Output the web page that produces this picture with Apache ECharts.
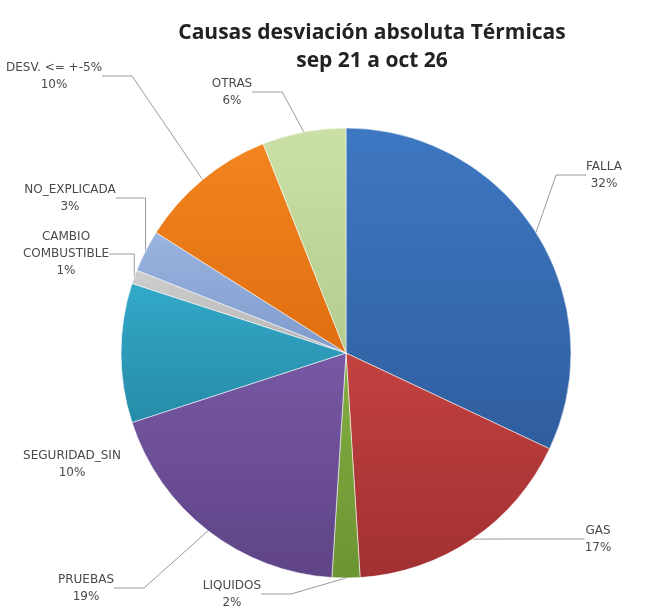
<!DOCTYPE html>
<html>
<head>
<meta charset="utf-8">
<script src="https://cdn.jsdelivr.net/npm/echarts@6/dist/echarts.min.js"></script>
<style>
html,body{margin:0;padding:0;background:#fff;}
#chart{width:651px;height:612px;}
</style>
</head>
<body>
<div id="chart"></div>
<script>
// ---- data ----
var categories = ['FALLA', 'GAS', 'LIQUIDOS', 'PRUEBAS', 'SEGURIDAD_SIN', 'CAMBIO\nCOMBUSTIBLE', 'NO_EXPLICADA', 'DESV. <= +-5%', 'OTRAS'];
var values = [32, 17, 2, 19, 10, 1, 3, 10, 6];

// ---- styles / layout (kept separate from data) ----
var sliceTop    = ['#3e78c2', '#c2413f', '#84ad42', '#7758a4', '#33a9c8', '#cfcfcf', '#9ab4e0', '#f2851f', '#cbe0a6'];
var sliceBottom = ['#2f5e9f', '#a23032', '#6d9433', '#5f4486', '#268ba8', '#b3b3b3', '#7f9bcc', '#e06e10', '#b3cc8c'];
var labelAnchors = [
  [604, 175], [598, 539], [232, 594], [86, 588], [72, 464],
  [66, 254], [70, 198], [54, 76], [232, 92]
];
var hideLine = [false, false, false, false, true, false, false, false, false];

var chart = echarts.init(document.getElementById('chart'), null, {renderer: 'canvas'});
var data = categories.map(function (c, i) {
  return {
    name: c,
    value: values[i],
    itemStyle: {
      color: new echarts.graphic.LinearGradient(0, 0, 0, 1, [
        { offset: 0, color: sliceTop[i] },
        { offset: 1, color: sliceBottom[i] }
      ])
    },
    labelLine: { show: !hideLine[i] }
  };
});

chart.setOption({
  backgroundColor: '#ffffff',
  animation: false,
  title: {
    text: 'Causas desviación absoluta Térmicas\nsep 21 a oct 26',
    left: 367,
    top: 14,
    textAlign: 'center',
    textStyle: {
      fontFamily: 'Open Sans',
      fontWeight: 'bold',
      fontSize: 21,
      lineHeight: 28,
      color: '#222222'
    }
  },
  series: [{
    type: 'pie',
    center: [346, 353],
    radius: 225,
    startAngle: 90,
    clockwise: true,
    data: data,
    itemStyle: { borderColor: 'rgba(255,255,255,0.55)', borderWidth: 1 },
    label: {
      show: true,
      formatter: function (p) { return p.name + '\n' + p.value + '%'; },
      fontFamily: 'DejaVu Sans',
      fontSize: 12,
      lineHeight: 17,
      color: '#4a4a4a',
      align: 'center',
      overflow: 'none'
    },
    labelLine: {
      show: true,
      lineStyle: { color: '#9a9a9a', width: 1 }
    },
    labelLayout: function (p) {
      var a = labelAnchors[p.dataIndex];
      return { x: a[0], y: a[1], align: 'center', verticalAlign: 'middle' };
    }
  }]
});
</script>
</body>
</html>
